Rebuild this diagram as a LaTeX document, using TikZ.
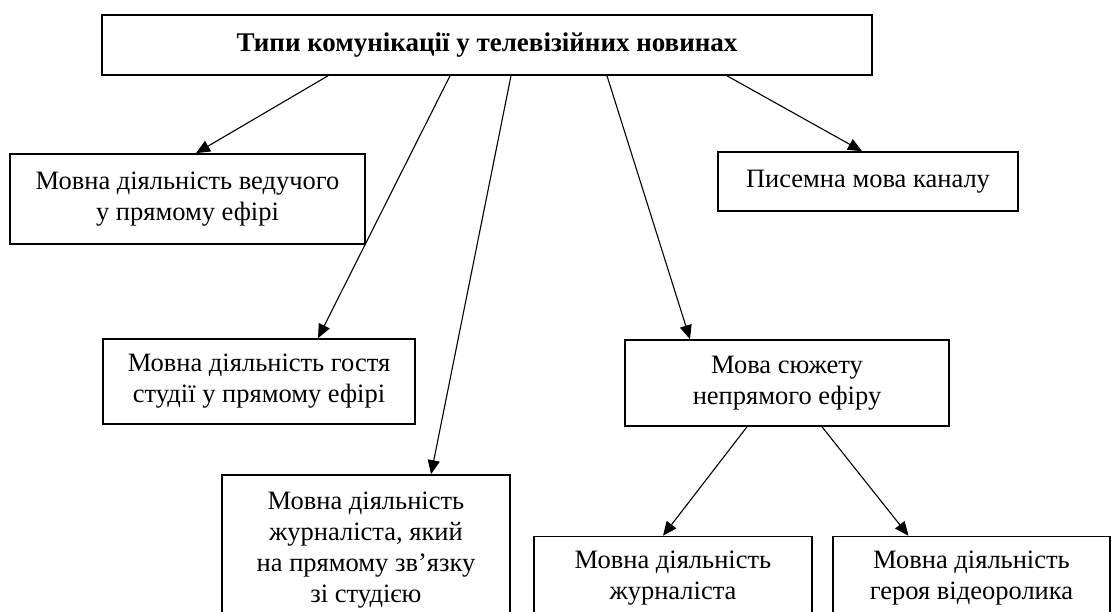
\documentclass[tikz,border=0pt]{standalone}
\usepackage{fontspec}
\setmainfont{Liberation Serif}
\usetikzlibrary{arrows.meta}
\begin{document}
\begin{tikzpicture}[x=1pt,y=-1pt,
  box/.style={draw=black, line width=1.6pt, fill=white, inner sep=0pt, align=center,
    font=\fontsize{26.5}{31}\selectfont},
  arr/.style={line width=1.1pt, -{Triangle[length=14pt,width=12pt]}}]
\clip (0,0) rectangle (1112,611);
\fill[white] (0,0) rectangle (1112,611);
\node[box, minimum width=770pt, minimum height=60pt, font=\fontsize{27}{31}\selectfont\bfseries] (top) at (487,45) {Типи комунікації у телевізійних новинах};
\node[box, minimum width=355pt, minimum height=90pt] (b1) at (187.5,199) {Мовна діяльність ведучого\\у прямому ефірі};
\node[box, minimum width=300pt, minimum height=59pt] (wr) at (868,181.5) {Писемна мова каналу};
\node[box, minimum width=312pt, minimum height=85pt] (gu) at (259,381.5) {Мовна діяльність гостя\\студії у прямому ефірі};
\node[box, minimum width=324pt, minimum height=86pt] (st) at (787,383) {Мова сюжету\\непрямого ефіру};
\node[box, minimum width=288pt, minimum height=150pt] (jl) at (366,550) {Мовна діяльність\\журналіста, який\\на прямому зв’язку\\зі студією};
\node[box, minimum width=278pt, minimum height=83pt] (jo) at (673,578) {Мовна діяльність\\журналіста};
\node[box, minimum width=277pt, minimum height=83pt] (he) at (971.5,578) {Мовна діяльність\\героя відеоролика};
\draw[arr] ([xshift=-159pt]top.south) -- ([xshift=8.5pt]b1.north);
\draw[arr] ([xshift=-37pt]top.south) -- ([xshift=59pt]gu.north);
\draw[arr] ([xshift=24pt]top.south) -- ([xshift=65pt]jl.north);
\draw[arr] ([xshift=120pt]top.south) -- ([xshift=-97pt]st.north);
\draw[arr] ([xshift=240pt]top.south) -- ([xshift=-6pt]wr.north);
\draw[arr] ([xshift=-40pt]st.south) -- ([xshift=-10pt]jo.north);
\draw[arr] ([xshift=35pt]st.south) -- ([xshift=-63pt]he.north);
\end{tikzpicture}
\end{document}
